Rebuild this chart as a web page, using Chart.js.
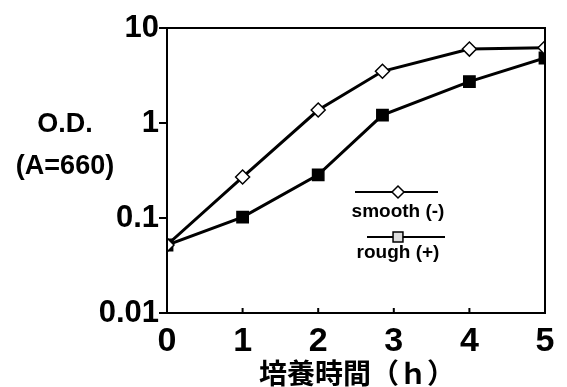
<!DOCTYPE html>
<html lang="ja">
<head>
<meta charset="UTF-8">
<title>培養時間とO.D.</title>
<script src="https://cdn.jsdelivr.net/npm/chart.js"></script>
<style>
    body { margin: 0; padding: 0; background: #fff; }
    #wrap { width: 567px; height: 387px; }
</style>
</head>
<body>
<div id="wrap"><canvas id="odChart" width="567" height="387"></canvas></div>
<script>
    // data
    const hours = [0, 1, 2, 2.85, 4, 5];
    const smoothOD = [0.052, 0.27, 1.37, 3.5, 6.0, 6.2];
    const roughOD = [0.052, 0.102, 0.285, 1.21, 2.73, 4.83];
    const yTicks = [0.01, 0.1, 1, 10];
    const xTicks = [0, 1, 2, 3, 4, 5];
    const seriesNames = ["smooth (-)", "rough (+)"];

    const toPoints = (xs, ys) => xs.map((x, i) => ({ x: x, y: ys[i] }));

    // box + inward x ticks + labels + legend
    const decor = {
        id: "decor",
        afterDraw(chart) {
            const c = chart.ctx;
            const a = chart.chartArea;
            c.save();
            c.strokeStyle = "#000";
            c.lineWidth = 2;
            c.strokeRect(a.left, a.top, a.right - a.left, a.bottom - a.top);

            const xs = chart.scales.x;
            xTicks.forEach(v => {
                const px = xs.getPixelForValue(v);
                c.beginPath();
                c.moveTo(px, a.bottom);
                c.lineTo(px, a.bottom - 5);
                c.stroke();
            });

            c.fillStyle = "#000";
            c.textAlign = "center";
            c.textBaseline = "middle";
            c.font = "bold 27px 'Liberation Sans', Arial, sans-serif";
            c.fillText("O.D.", 65, 125);
            c.fillText("(A=660)", 65, 167);

            c.font = "bold 28px 'Noto Sans CJK JP', sans-serif";
            c.fillText("培養時間（ｈ）", 357, 373);

            // legend
            const rows = [
                { y: 192, x1: 355, x2: 438, ty: 212 },
                { y: 237, x1: 367, x2: 445, ty: 253 }
            ];
            chart.data.datasets.forEach((ds, i) => {
                const r = rows[i];
                const mx = 398;
                c.lineWidth = 2;
                c.strokeStyle = "#000";
                c.beginPath();
                c.moveTo(r.x1, r.y);
                c.lineTo(r.x2, r.y);
                c.stroke();
                c.fillStyle = i === 0 ? "#fff" : "#ddd";
                c.strokeStyle = "#000";
                c.lineWidth = ds.pointBorderWidth;
                Chart.helpers.drawPoint(c, {
                    pointStyle: ds.pointStyle,
                    radius: ds.pointRadius - 1,
                    borderWidth: ds.pointBorderWidth
                }, mx, r.y);
                c.fillStyle = "#000";
                c.font = "bold 19px 'Liberation Sans', Arial, sans-serif";
                c.fillText(ds.label, 398, r.ty);
            });
            c.restore();
        }
    };

    const ctx = document.getElementById("odChart").getContext("2d");
    const chart = new Chart(ctx, {
        type: "line",
        data: {
            datasets: [
                {
                    label: seriesNames[0],
                    data: toPoints(hours, smoothOD),
                    borderColor: "#000",
                    borderWidth: 3,
                    pointStyle: "rectRot",
                    pointRadius: 7,
                    pointBorderWidth: 1.5,
                    pointBackgroundColor: "#fff",
                    pointBorderColor: "#000",
                    tension: 0
                },
                {
                    label: seriesNames[1],
                    data: toPoints(hours, roughOD),
                    borderColor: "#000",
                    borderWidth: 3,
                    pointStyle: "rect",
                    pointRadius: 8,
                    pointBorderWidth: 1.5,
                    pointBackgroundColor: "#000",
                    pointBorderColor: "#000",
                    tension: 0
                }
            ]
        },
        options: {
            responsive: false,
            animation: false,
            layout: { padding: { top: 28, right: 22, left: 0, bottom: 0 } },
            plugins: {
                legend: { display: false },
                tooltip: { enabled: false }
            },
            scales: {
                x: {
                    type: "linear",
                    min: 0,
                    max: 5,
                    afterBuildTicks: s => { s.ticks = xTicks.map(v => ({ value: v })); },
                    afterFit: s => { s.height = 74; },
                    grid: { display: false, drawTicks: false },
                    border: { color: "#000", width: 2 },
                    ticks: {
                        color: "#000",
                        padding: 8,
                        font: { family: "'Liberation Sans', Arial, sans-serif", size: 34, weight: "bold" }
                    }
                },
                y: {
                    type: "logarithmic",
                    min: 0.01,
                    max: 10,
                    afterBuildTicks: s => { s.ticks = yTicks.map(v => ({ value: v })); },
                    afterFit: s => { s.width = 167; },
                    grid: { drawOnChartArea: false, color: "#000", lineWidth: 2, tickLength: 8 },
                    border: { color: "#000", width: 2 },
                    ticks: {
                        color: "#000",
                        padding: 0,
                        callback: v => String(v),
                        font: { family: "'Liberation Sans', Arial, sans-serif", size: 31, weight: "bold" }
                    }
                }
            }
        },
        plugins: [decor]
    });
</script>
</body>
</html>
